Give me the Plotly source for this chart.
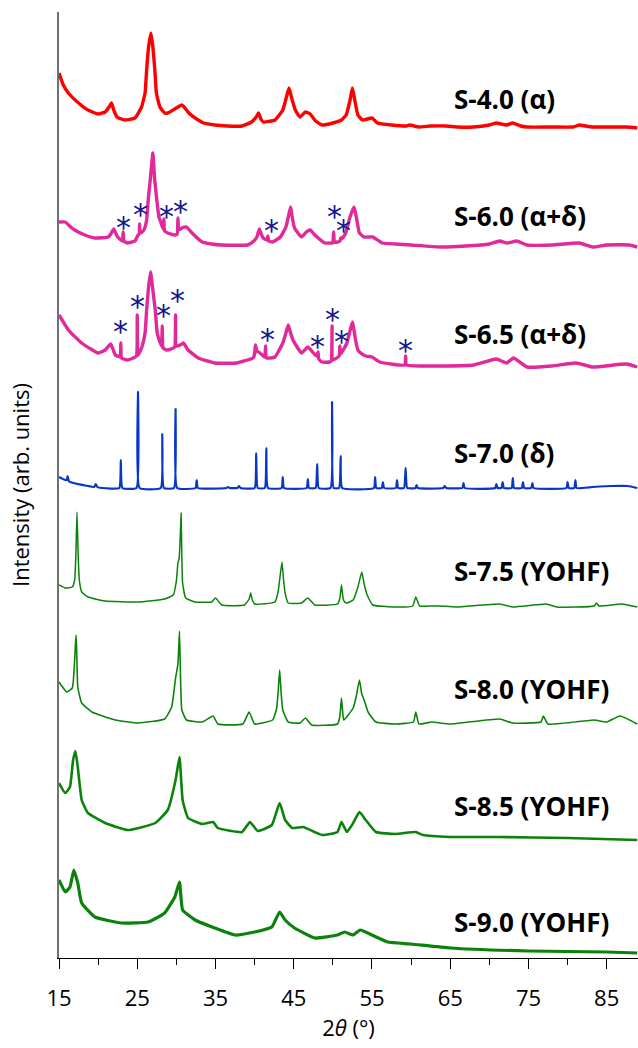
import plotly.graph_objects as go

# ---------------- data (2theta in degrees, intensity in arb. units) ----------------
labels = ["S-4.0 (α)", "S-6.0 (α+δ)", "S-6.5 (α+δ)", "S-7.0 (δ)",
          "S-7.5 (YOHF)", "S-8.0 (YOHF)", "S-8.5 (YOHF)", "S-9.0 (YOHF)"]
offsets = [831, 712, 592, 470, 352, 234, 120, 6]
label_y = [859, 742, 624, 505, 387, 269, 152, 36]

s40_2t = [15.0, 15.55, 16.2, 17.5, 18.7, 20.0, 20.9, 21.4, 21.7, 22.0, 22.4, 23.4, 24.7, 25.55, 26.0,
          26.2, 26.45, 26.75, 27.0, 27.25, 27.45, 27.9, 28.5, 28.9, 30.0, 30.7, 31.1, 31.6, 32.4, 33.5,
          34.9, 36.5, 38.4, 39.6, 40.2, 40.5, 40.8, 41.1, 42.6, 43.6, 44.07, 44.4, 44.7, 45.2, 45.8,
          46.5, 47.1, 47.8, 48.6, 50.0, 51.1, 51.7, 52.2, 52.5, 52.8, 53.2, 53.8, 55.0, 55.7, 57.5,
          59.4, 59.8, 61.0, 62.5, 64.5, 66.0, 67.9, 70.0, 70.9, 71.5, 72.2, 73.0, 74.0, 74.8, 78.0,
          80.7, 81.5, 82.3, 83.2, 85.5, 87.5, 88.9]
s40_int = [54, 42, 34, 24, 17, 13, 15, 20, 24, 17, 10, 7, 9, 20, 34,
           57, 80, 94, 80, 57, 34, 20, 14, 14, 19, 22, 19, 14, 9, 4,
           2, 1, 1, 5, 10, 14, 8, 5, 7, 17, 30, 39, 30, 17, 10,
           15, 13, 6, 2, 4, 7, 12, 27, 39, 27, 12, 7, 9, 4, 2,
           1, 2, 0, 1, 1, 0, 0, 2, 4, 3, 2, 4, 1, 0, 0,
           0, 2, 1, 0, 0, 0, -1]

s60_2t = [15.0, 15.8, 16.5, 17.0, 18.3, 19.6, 21.3, 21.7, 22.0, 22.3, 22.5, 23.1, 23.2, 23.3, 23.7,
          24.7, 25.1, 25.25, 25.3, 25.35, 25.6, 25.85, 26.2, 26.4, 26.7, 27.0, 27.2, 27.5, 27.77, 28.0,
          28.3, 28.4, 28.5, 28.9, 29.8, 30.1, 30.2, 30.3, 30.7, 31.3, 32.0, 33.3, 34.5, 35.8, 39.1,
          39.9, 40.3, 40.6, 40.9, 41.1, 41.6, 41.7, 41.8, 42.3, 43.3, 44.0, 44.3, 44.6, 44.8, 45.1,
          46.0, 46.6, 47.1, 47.7, 49.0, 49.9, 50.0, 50.1, 50.2, 50.6, 50.9, 51.0, 51.1, 51.6, 52.2,
          52.7, 53.0, 53.4, 54.0, 55.1, 56.3, 58.0, 60.0, 63.7, 67.0, 70.0, 71.3, 72.3, 73.5, 74.8,
          78.0, 81.5, 83.2, 85.0, 87.9, 88.9]
s60_int = [24, 24, 19, 16, 11, 8, 9, 13, 17, 12, 9, 5, 14, 5, 3,
           5, 11, 12, 22, 13, 14, 16, 26, 46, 69, 93, 69, 46, 29, 24,
           17, 27, 15, 13, 11, 12, 28, 16, 18, 19, 13, 4, 2, 1, 1,
           5, 9, 17, 11, 8, 6, 10, 5, 4, 9, 19, 29, 39, 29, 18,
           9, 14, 16, 11, 3, 3, 3, 14, 4, 4, 5, 8, 7, 12, 29,
           39, 29, 13, 9, 9, 3, 2, 1, -1, 0, 2, 5, 3, 5, 1,
           1, 3, -1, 1, 1, -1]

s65_2t = [15.0, 16.2, 17.9, 20.0, 20.9, 21.6, 22.2, 22.8, 22.9, 23.0, 23.7, 24.5, 24.9, 25.0, 25.1,
          25.6, 26.0, 26.2, 26.45, 26.7, 26.95, 27.3, 27.55, 27.8, 28.1, 28.2, 28.3, 28.8, 29.6, 29.8,
          29.9, 30.0, 30.5, 30.9, 31.5, 32.8, 34.9, 37.7, 39.8, 40.0, 40.1, 40.3, 40.7, 41.3, 41.4,
          41.5, 42.6, 43.6, 44.0, 44.3, 44.6, 44.9, 46.0, 46.8, 47.4, 47.9, 48.1, 48.2, 48.6, 49.6,
          49.8, 49.9, 50.0, 50.8, 50.9, 51.0, 51.8, 52.0, 52.5, 52.9, 53.2, 53.4, 54.2, 55.0, 56.0,
          59.2, 59.3, 59.4, 62.0, 64.5, 68.0, 70.9, 72.2, 73.1, 74.8, 78.0, 81.1, 83.2, 87.5, 88.9]
s65_int = [51, 36, 23, 13, 16, 22, 11, 9, 23, 8, 6, 8, 10, 51, 11,
           19, 33, 56, 79, 94, 79, 56, 33, 26, 20, 40, 18, 16, 18, 19,
           51, 20, 21, 23, 16, 8, 3, 3, 8, 12, 21, 15, 13, 9, 20,
           8, 9, 23, 33, 41, 33, 26, 13, 19, 14, 10, 14, 7, 4, 4,
           5, 40, 6, 10, 20, 12, 23, 29, 44, 26, 16, 14, 10, 9, 4,
           1, 10, 1, 0, 0, 1, 7, 3, 8, -1, 0, 3, -1, 2, -1]

s70_2t = [15.0, 15.8, 16.0, 16.1, 16.25, 16.4, 18.7, 19.5, 19.7, 19.9, 20.5, 22.7, 22.9, 23.1, 24.9,
          25.1, 25.3, 28.0, 28.2, 28.4, 29.7, 29.9, 30.1, 32.45, 32.6, 32.75, 36.4, 36.6, 36.8, 37.8,
          38.0, 38.2, 40.0, 40.2, 40.4, 41.3, 41.5, 41.7, 43.45, 43.6, 43.75, 46.65, 46.8, 46.95, 47.8,
          48.0, 48.2, 49.7, 49.9, 50.1, 50.8, 51.0, 51.2, 55.25, 55.4, 55.55, 56.25, 56.4, 56.55, 58.05,
          58.2, 58.35, 59.1, 59.3, 59.5, 60.55, 60.7, 60.85, 64.1, 64.3, 64.5, 66.55, 66.7, 66.85, 70.75,
          70.9, 71.05, 71.55, 71.7, 71.85, 72.85, 73.0, 73.15, 74.15, 74.3, 74.45, 75.35, 75.5, 75.65, 79.85,
          80.0, 80.15, 80.85, 81.0, 81.15, 83.2, 85.6, 87.7, 88.9]
s70_int = [11, 8, 8, 12, 7, 6, 2, 1, 4, 1, 0, 0, 28, 0, 0,
           96, 0, 0, 54, 0, 0, 79, 0, 0, 8, 0, 0, 1, 0, 0,
           2, 0, 0, 35, 0, 0, 40, 0, 0, 11, 0, 0, 9, 0, 0,
           24, 0, 0, 86, 0, 0, 32, 0, 0, 11, 0, 0, 6, 0, 0,
           8, 0, 0, 20, 0, 0, 3, 0, 0, 2, 0, 0, 5, 0, 0,
           4, 0, 0, 6, 0, 0, 10, 0, 0, 6, 0, 0, 5, 0, 0,
           6, 0, 0, 8, 0, 1, 2, 2, 0]

s75_2t = [15.0, 15.8, 16.7, 17.0, 17.15, 17.3, 17.45, 17.6, 17.9, 18.7, 20.9, 25.1, 28.5, 29.6, 30.0,
          30.2, 30.35, 30.5, 30.6, 30.7, 30.8, 31.2, 32.4, 34.5, 35.0, 35.8, 38.7, 39.3, 39.5, 39.7,
          40.0, 42.6, 43.0, 43.2, 43.5, 43.7, 43.9, 44.3, 46.0, 46.8, 47.7, 50.6, 50.9, 51.1, 51.3,
          51.5, 51.8, 52.6, 53.2, 53.7, 54.0, 54.3, 54.5, 55.1, 57.7, 60.2, 60.6, 61.1, 62.6, 63.6,
          65.8, 71.3, 73.0, 77.3, 78.6, 83.4, 83.7, 84.0, 86.9, 88.9]
s75_int = [21, 18, 19, 26, 50, 94, 50, 26, 14, 9, 5, 4, 7, 11, 25,
           43, 47, 70, 93, 50, 23, 8, 4, 4, 8, 1, 1, 7, 13, 6,
           2, 4, 14, 26, 44, 26, 13, 3, 3, 8, 1, 2, 8, 21, 8,
           4, 3, 6, 19, 34, 22, 13, 9, 1, -1, 0, 9, 0, 0, 0,
           -1, 2, -1, 2, -1, 0, 3, 0, 2, -1]

s80_2t = [15.0, 16.0, 16.7, 17.0, 17.1, 17.2, 17.3, 17.4, 17.9, 19.2, 22.2, 25.1, 28.5, 29.4, 29.9,
          30.2, 30.4, 30.55, 30.7, 31.3, 33.3, 34.7, 35.3, 38.5, 39.3, 40.0, 42.3, 42.8, 43.0, 43.2,
          43.4, 43.6, 44.3, 45.8, 46.5, 47.3, 50.6, 50.9, 51.1, 51.3, 51.4, 52.6, 53.0, 53.4, 53.7,
          54.0, 54.5, 55.5, 58.0, 60.3, 60.6, 61.0, 62.6, 65.0, 71.3, 73.0, 76.6, 76.9, 77.5, 83.4,
          85.0, 86.7, 88.9]
s80_int = [42, 32, 36, 64, 80, 89, 60, 37, 21, 12, 4, 1, 5, 17, 46,
           60, 93, 40, 14, 4, 2, 8, 0, 0, 12, 0, 4, 15, 31, 54,
           30, 14, 2, 1, 6, -1, 0, 8, 26, 8, 4, 16, 28, 44, 30,
           24, 12, 2, 0, 2, 12, 0, 2, 0, 5, 1, 2, 8, 0, 4,
           2, 8, 0]

s85_2t = [15.0, 15.8, 16.4, 16.8, 17.1, 17.4, 17.9, 18.7, 20.9, 23.8, 27.3, 28.9, 29.9, 30.4, 30.8,
          31.5, 33.3, 34.7, 35.3, 38.4, 39.4, 40.4, 42.2, 43.2, 43.9, 44.8, 46.2, 48.6, 50.6, 51.1,
          51.8, 52.6, 53.4, 54.2, 55.5, 58.0, 60.6, 61.5, 65.0, 71.0, 80.0, 88.9]
s85_int = [55, 45, 51, 78, 87, 71, 38, 25, 15, 8, 15, 28, 58, 81, 38,
           20, 14, 16, 10, 6, 16, 7, 13, 35, 18, 10, 11, 3, 6, 16,
           6, 15, 26, 18, 6, 4, 6, 3, 1, 1, 0, -2]

s90_2t = [15.0, 15.8, 16.4, 16.9, 17.4, 17.9, 19.6, 23.0, 26.4, 28.5, 29.8, 30.4, 30.8, 32.4, 34.9,
          37.5, 40.0, 42.2, 43.2, 43.9, 45.1, 47.7, 50.6, 51.5, 52.6, 53.5, 55.0, 57.0, 60.0, 65.0,
          75.0, 85.0, 88.9]
s90_int = [72, 60, 65, 82, 69, 49, 35, 29, 30, 39, 55, 70, 42, 32, 24,
           17, 20, 25, 40, 32, 24, 14, 17, 20, 17, 22, 17, 10, 8, 4,
           1, 0, -1]

# delta-phase markers (*) for S-6.0 and S-6.5
star60_2t = [23.2, 25.4, 28.7, 30.5, 42.2, 50.2, 51.4]
star60_h = [24, 37, 35, 40, 21, 35, 21]
star65_2t = [22.9, 25.0, 28.4, 30.2, 41.7, 48.1, 50.0, 51.1, 59.3]
star65_h = [40, 65, 56, 71, 32, 25, 52, 30, 21]

series = [(s40_2t, s40_int), (s60_2t, s60_int), (s65_2t, s65_int), (s70_2t, s70_int),
          (s75_2t, s75_int), (s80_2t, s80_int), (s85_2t, s85_int), (s90_2t, s90_int)]
colors = ["#ff0000", "#e2299a", "#e2299a", "#0a36c8", "#0b830b", "#0b830b", "#0b830b", "#0b830b"]
widths = [3.4, 3.4, 3.4, 2.2, 1.5, 1.6, 2.6, 3.2]

fig = go.Figure()
for (tt, ii), off, c, w in zip(series, offsets, colors, widths):
    fig.add_trace(go.Scatter(x=tt, y=[v + off for v in ii], mode="lines",
                             line=dict(color=c, width=w, shape="spline", smoothing=0.4),
                             showlegend=False, hoverinfo="skip"))

star_color = "#14168f"
for tt, hh, off in [(star60_2t, star60_h, offsets[1]), (star65_2t, star65_h, offsets[2])]:
    for x, h in zip(tt, hh):
        fig.add_annotation(x=x, y=h + off, text="*", showarrow=False, xanchor="center",
                           yanchor="middle", yshift=-5,
                           font=dict(family="DejaVu Sans", size=30, color=star_color))

for lab, ly in zip(labels, label_y):
    fig.add_annotation(x=65.2, y=ly, text="<b>" + lab + "</b>", showarrow=False,
                       xanchor="left", yanchor="middle",
                       font=dict(family="Open Sans", size=26, color="black"))

fig.update_layout(
    width=638, height=1048,
    margin=dict(l=59, r=0, t=12, b=90),
    paper_bgcolor="white", plot_bgcolor="white",
    font=dict(family="Open Sans", color="black"),
)
fig.update_xaxes(range=[15, 89], tickvals=[15, 25, 35, 45, 55, 65, 75, 85],
                 ticks="outside", ticklen=10, tickwidth=1.3, tickcolor="black",
                 ticklabelstandoff=10,
                 showline=True, linecolor="black", linewidth=1.3, showgrid=False, zeroline=False,
                 minor=dict(tickvals=[20, 30, 40, 50, 60, 70, 80], ticks="outside", ticklen=6,
                            tickwidth=1.3, tickcolor="black"),
                 tickfont=dict(size=22, family="Open Sans"),
                 title=dict(text="2<i>θ</i> (°)", font=dict(size=22, family="Open Sans"), standoff=4))
fig.update_yaxes(range=[0, 946], showticklabels=False, ticks="", showgrid=False, zeroline=False,
                 showline=True, linecolor="#707070", linewidth=1.5,
                 title=dict(text="Intensity (arb. units)", font=dict(size=22, family="Open Sans"),
                            standoff=22))

fig.write_html("out.html")
